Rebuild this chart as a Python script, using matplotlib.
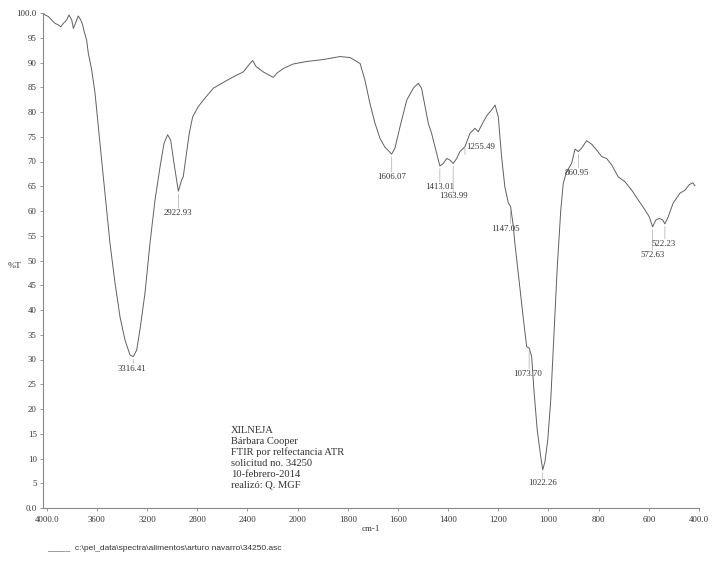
import numpy as np
import matplotlib
matplotlib.use("Agg")
import matplotlib.pyplot as plt

# ------------------------------------------------------------
# FTIR spectrum
# ------------------------------------------------------------
wavenumber = [
    4025, 4014, 3988, 3961, 3934, 3908, 3889, 3868, 3841, 3823, 3801, 3788,
    3767, 3749, 3729, 3714, 3701, 3682, 3669, 3642, 3615, 3589, 3576, 3536,
    3496, 3456, 3416, 3376, 3336, 3310, 3283, 3257, 3217, 3177, 3137, 3097,
    3065, 3036, 3012, 2986, 2951, 2924, 2912, 2890, 2864, 2837, 2792, 2739,
    2672, 2605, 2513, 2433, 2380, 2358, 2332, 2274, 2194, 2167, 2114, 2035,
    1964, 1898, 1831, 1791, 1751, 1732, 1712, 1692, 1672, 1652, 1625, 1612,
    1592, 1565, 1539, 1519, 1506, 1492, 1479, 1466, 1449, 1433, 1419, 1406,
    1393, 1380, 1366, 1353, 1333, 1313, 1293, 1280, 1260, 1244, 1227, 1213,
    1200, 1187, 1174, 1160, 1151, 1140, 1134, 1116, 1101, 1087, 1077, 1067,
    1058, 1045, 1031, 1023, 1014, 1003, 991, 978, 965, 951, 941, 928,
    908, 894, 881, 868, 848, 828, 808, 788, 768, 748, 722, 695,
    668, 642, 615, 598, 585, 572, 558, 545, 536, 523, 503, 476,
    456, 439, 425, 416,
]
transmittance = [
    99.9, 99.6, 99.3, 98.6, 97.9, 97.6, 97.2, 97.9, 98.6, 99.6, 98.6, 96.9,
    98.2, 99.4, 98.6, 97.6, 96.2, 94.5, 91.9, 88.5, 83.8, 77.0, 73.7, 63.6,
    53.5, 45.5, 38.6, 33.9, 30.9, 30.6, 31.9, 36.0, 43.4, 53.5, 62.2, 68.9,
    73.7, 75.4, 74.3, 69.7, 64.0, 66.3, 66.9, 71.0, 75.7, 79.0, 81.1, 82.8,
    84.8, 85.8, 87.1, 88.1, 89.8, 90.4, 89.2, 88.1, 87.0, 87.8, 88.8, 89.7,
    90.2, 90.6, 91.2, 91.0, 89.8, 86.5, 81.8, 77.8, 74.7, 72.9, 71.5, 72.7,
    77.0, 82.4, 84.8, 85.8, 84.8, 81.1, 77.7, 75.7, 72.3, 69.1, 69.6, 70.6,
    70.3, 69.6, 70.6, 72.0, 73.0, 75.7, 76.7, 76.0, 78.0, 79.4, 80.4, 81.4,
    79.0, 71.0, 64.9, 61.6, 60.9, 56.8, 53.5, 45.4, 38.6, 32.6, 32.3, 30.6,
    23.8, 15.8, 10.4, 7.7, 9.4, 13.7, 21.8, 35.3, 48.7, 60.2, 65.6, 67.9,
    69.6, 72.5, 72.0, 72.7, 74.2, 73.5, 72.3, 71.0, 70.6, 69.3, 66.9, 65.9,
    64.2, 62.2, 60.2, 58.8, 56.8, 58.2, 58.5, 58.2, 57.4, 58.8, 61.6, 63.6,
    64.2, 65.3, 65.7, 65.1,
]

# peak labels: where the mark sits on the curve, and the printed value
peak_wn = [3310, 2951, 1625, 1433, 1380, 1333, 1151, 1077, 1023, 881, 585, 536]
peak_t = [30.6, 64.0, 71.5, 69.1, 69.6, 73.0, 60.9, 32.3, 7.7, 72.0, 56.8, 57.4]
peak_labels = ["3316.41", "2922.93", "1606.07", "1413.01", "1363.99", "1255.49",
               "1147.05", "1073.70", "1022.26", "860.95", "572.63", "522.23"]
# label offsets in pixels (dx, dy below the mark)
peak_offsets = [(-1, 12), (0, 22), (0, 23), (0, 21), (0, 33), (None, 0),
                (-5, 22), (-2, 26), (0, 13), (-1, 21), (0, 28), (-1, 20)]

xticks = [4000, 3600, 3200, 2800, 2400, 2000, 1800, 1600, 1400, 1200, 1000, 800, 600, 400]
xtick_labels = ["4000.0", "3600", "3200", "2800", "2400", "2000", "1800", "1600",
                "1400", "1200", "1000", "800", "600", "400.0"]
yticks = list(range(0, 101, 5))
ytick_labels = ["0.0"] + [str(v) for v in yticks[1:-1]] + ["100.0"]

info_lines = ["XILNEJA", "Bárbara Cooper", "FTIR por relfectancia ATR",
              "solicitud no. 34250", "10-febrero-2014", "realizó: Q. MGF"]
footer = "_____  c:\\pel_data\\spectra\\alimentos\\arturo navarro\\34250.asc"


# instrument style axis: 2x expansion below 2000 cm-1
def fwd(x):
    x = np.asarray(x, dtype=float)
    return np.where(x >= 2000, x / 2 + 1000, x)


def inv(g):
    g = np.asarray(g, dtype=float)
    return np.where(g >= 2000, (g - 1000) * 2, g)


SERIF = "Liberation Serif"
INK = "#333333"
PX = 0.72  # points per pixel at 100 dpi

fig = plt.figure(figsize=(7.21, 5.66), dpi=100)
ax = fig.add_axes([43 / 721, 1 - 508 / 566, (699 - 43) / 721, (508 - 13) / 566])

ax.plot(wavenumber, transmittance, color="#606060", lw=0.7)

ax.set_xscale("function", functions=(fwd, inv))
ax.set_xlim(4030, 400)
ax.set_ylim(0, 100)

ax.set_xticks(xticks)
ax.set_xticklabels(xtick_labels)
ax.set_yticks(yticks)
ax.set_yticklabels(ytick_labels)
ax.minorticks_off()

for sp in ["top", "right"]:
    ax.spines[sp].set_visible(False)
for sp in ["left", "bottom"]:
    ax.spines[sp].set_color("#888888")
    ax.spines[sp].set_linewidth(0.8)

ax.tick_params(axis="both", direction="out", length=2.5, width=0.6,
               color="#888888", labelsize=6.3, labelcolor=INK, pad=2)
ax.tick_params(axis="x", pad=3)
for lab in ax.get_xticklabels() + ax.get_yticklabels():
    lab.set_family(SERIF)

ax.set_xlabel("cm-1", family=SERIF, fontsize=6.5, color=INK, labelpad=1)
fig.text(15 / 721, 1 - 266 / 566, "%T", family=SERIF, fontsize=6.8,
         color=INK, ha="center", va="center")

# peak marks
for wn, t, lab, (dx, dy) in zip(peak_wn, peak_t, peak_labels, peak_offsets):
    if dx is None:
        ax.annotate("", xy=(wn, t), xytext=(0, -8 * PX), textcoords="offset points",
                    arrowprops=dict(arrowstyle="-", color="#aaaaaa", lw=0.5,
                                    shrinkA=0, shrinkB=1))
        ax.annotate(lab, xy=(wn, t), xytext=(1, 0), textcoords="offset points",
                    ha="left", va="center", family=SERIF, fontsize=6.3, color=INK)
        continue
    ax.annotate("", xy=(wn, t), xytext=(0, -(dy - 5) * PX),
                textcoords="offset points",
                arrowprops=dict(arrowstyle="-", color="#aaaaaa", lw=0.5,
                                shrinkA=0, shrinkB=2))
    ax.annotate(lab, xy=(wn, t), xytext=(dx * PX, -dy * PX),
                textcoords="offset points", ha="center", va="center",
                family=SERIF, fontsize=6.3, color=INK)

fig.text(231 / 721, 1 - 426 / 566, "\n".join(info_lines), family=SERIF,
         fontsize=7.6, color=INK, ha="left", va="top", linespacing=1.25)

fig.text(47 / 721, 1 - 549 / 566, footer, family="Liberation Sans",
         fontsize=6.0, color=INK, ha="left", va="center")

fig.savefig("out.png", dpi=100)
